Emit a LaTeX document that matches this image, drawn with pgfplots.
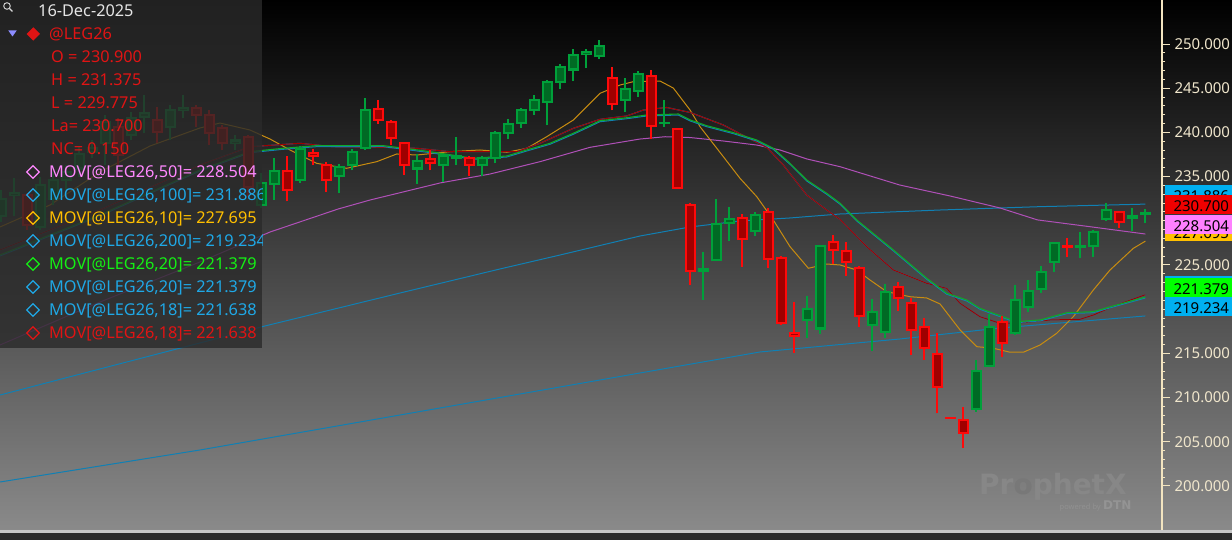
\documentclass[border=0pt]{standalone}
\usepackage{fontspec}
\setmainfont{Noto Sans}
\newfontfamily\wmfont{DejaVu Sans}
\usepackage{pgfplots}
\pgfplotsset{compat=1.18}
\usepackage{pgfplotstable}

\definecolor{bgbot}{HTML}{8A8A8A}
\definecolor{gborder}{HTML}{00A03A}
\definecolor{gfill}{HTML}{006A24}
\definecolor{rborder}{HTML}{FF0A0A}
\definecolor{rfill}{HTML}{A00000}
\definecolor{maf}{HTML}{B050B8}
\definecolor{mab}{HTML}{1080B4}
\definecolor{mag}{HTML}{C88C10}
\definecolor{magr}{HTML}{10A828}
\definecolor{mar}{HTML}{A00000}
\definecolor{axiscream}{HTML}{F2E4C0}
\definecolor{ticktext}{HTML}{F0E6CC}
\definecolor{tblue}{HTML}{1FA8E6}
\definecolor{tpink}{HTML}{FF88FF}
\definecolor{torange}{HTML}{FFBF00}
\definecolor{tgreen}{HTML}{14F014}
\definecolor{tred}{HTML}{E01414}
\definecolor{legbg}{HTML}{2A2A2A}
\definecolor{boxblue}{HTML}{00B0F0}
\definecolor{boxred}{HTML}{F00000}
\definecolor{boxpink}{HTML}{FF80FF}
\definecolor{boxorange}{HTML}{FFC000}
\definecolor{boxgreen}{HTML}{00FF00}

\pgfplotstableread{
i O H L C
0 230.5 233.5 229.9 232.5
1 232.9 234.8 230.5 233.2
3 229.3 235.0 229.0 234.05
4 232.4 235.5 231.8 234.6
5 234.6 236.3 233.5 235.5
6 235.9 238.35 235.0 237.6
7 237.8 239.1 237.1 238.2
8 238.8 242.0 236.3 241.2
10 239.7 242.3 239.1 241.6
11 241.7 244.2 239.9 242.2
13 240.6 243.1 239.1 242.5
14 242.5 244.2 241.6 242.8
18 238.8 239.7 238.0 239.1
20 231.8 235.4 231.4 234.3
21 234.2 237.1 232.4 235.6
23 234.6 238.5 234.3 238.1
26 235.1 236.4 233.1 236.05
27 236.3 238.1 235.7 237.75
28 238.2 243.9 238.0 242.6
32 235.9 237.6 234.2 236.8
34 236.3 237.6 234.4 237.4
35 237.1 239.5 236.3 237.3
37 236.3 237.3 235.1 237.1
38 237.1 240.2 236.5 239.9
39 239.9 241.5 239.2 241.0
40 241.1 242.8 240.5 242.5
41 242.5 244.2 242.0 243.7
42 243.4 245.9 240.8 245.7
43 245.7 247.7 244.9 247.4
44 247.1 249.4 245.8 248.8
45 248.8 249.4 247.3 249.1
46 248.6 250.5 248.3 249.8
48 243.7 246.1 242.3 244.9
49 244.7 246.9 244.0 246.6
51 241.0 243.7 240.6 241.1
54 224.35 226.5 221.0 224.6
55 225.5 232.5 225.4 229.7
56 229.7 231.6 227.75 230.2
58 228.8 231.0 228.3 230.7
62 218.8 221.5 216.7 220.0
63 217.8 227.3 217.2 227.2
67 218.2 221.2 215.3 219.7
68 217.4 222.85 216.7 222.0
75 208.7 214.3 208.4 213.0
76 213.6 219.4 213.5 218.0
78 217.3 222.7 217.1 221.0
79 220.2 223.3 219.7 222.1
80 222.3 224.9 221.8 224.2
81 225.3 227.6 224.2 227.5
83 227.0 228.7 225.8 227.2
84 227.1 229.0 225.9 228.8
85 230.2 232.0 230.0 231.2
87 230.35 231.4 228.9 230.55
88 230.9 231.375 229.775 230.7
}\greentab

\pgfplotstableread{
i O H L C
2 232.9 233.1 229.0 229.5
9 240.6 241.6 236.3 237.4
12 241.4 242.9 238.8 240.05
15 242.8 243.1 240.6 242.0
16 242.0 242.5 238.6 239.9
17 240.5 240.8 238.0 238.8
19 239.5 239.7 232.7 233.8
22 235.6 237.3 232.2 233.5
24 237.7 238.1 236.3 237.3
25 236.3 236.7 233.3 234.6
29 242.7 243.7 241.0 241.4
30 241.2 241.4 238.6 239.3
31 238.8 238.8 235.2 236.3
33 237.0 238.0 235.7 236.5
36 237.1 237.3 235.1 236.3
47 246.2 247.4 242.5 243.2
50 246.4 247.1 239.3 240.7
52 240.35 240.35 233.6 233.7
53 231.8 232.0 222.7 224.3
57 230.3 230.8 224.8 227.9
59 231.0 231.5 224.7 225.7
60 225.8 226.0 218.2 218.4
61 217.3 220.85 215.1 216.9
64 227.6 228.4 225.1 226.7
65 226.6 227.6 223.7 225.3
66 224.7 224.9 218.0 219.2
69 222.5 223.1 219.8 221.2
70 220.7 221.3 214.8 217.6
71 218.0 219.0 214.25 215.6
72 214.9 217.3 208.2 211.2
73 207.7 207.7 207.7 207.7
74 207.5 208.9 204.3 206.0
77 218.6 219.2 214.6 216.2
82 227.2 228.1 225.9 227.0
86 231.0 231.1 229.2 229.9
}\redtab

\pgfplotstableread{
i v
-0.1 215.95
7.59 220.81
15.28 225.34
20.67 228.73
25.9 231.33
28.36 232.35
33.75 234.28
37.59 235.29
41.44 236.69
45.28 238.31
49.13 239.25
51.05 239.51
52.98 239.42
55.52 239.03
58.11 238.57
59.9 238.01
61.95 237.0
64.52 236.12
69.1 234.05
73.0 232.8
76.82 231.45
79.7 230.1
83.75 229.33
88 228.504
}\maFifty

\pgfplotstableread{
i v
-0.1 210.29
7.59 213.24
15.28 216.18
20.28 218.10
30.67 221.83
38.36 224.55
42.98 226.13
49.13 228.28
52.98 229.30
56.82 229.98
60.67 230.32
64.52 230.77
72.21 231.22
79.9 231.6
88 231.886
}\maHundred

\pgfplotstableread{
i v
-0.1 200.45
15.28 204.07
30.67 208.03
46.05 211.99
58.36 215.16
69.13 216.63
76.82 217.87
88 219.234
}\maTwoHundred

\pgfplotstableread{
i v
-0.1 229.30
3.75 231.79
7.59 235.52
11.44 238.46
15.28 240.50
16.82 241.06
19.13 240.27
20.67 239.25
22.21 238.01
24.26 236.50
26.57 235.94
28.88 236.69
30.42 237.56
31.95 237.44
34.52 237.82
36.82 238.01
38.88 237.75
40.42 238.20
41.95 239.51
44.0 241.40
46.05 244.42
47.59 245.36
48.62 245.74
50.67 245.81
51.69 245.02
52.98 242.53
53.75 240.64
55.54 237.25
56.82 234.81
58.11 232.73
59.38 230.09
60.67 227.07
62.08 224.63
63.49 225.11
64.52 225.0
65.8 224.43
66.82 223.30
68.11 221.98
69.9 221.41
71.18 221.27
72.21 220.59
73.75 217.65
75.03 215.76
76.31 215.58
77.59 215.13
78.62 215.13
79.9 215.95
81.18 217.27
82.46 219.15
84.0 222.17
85.28 224.43
87.08 226.89
88 227.695
}\maTen

\pgfplotstableread{
i v
-0.1 226.13
7.59 230.66
15.28 235.75
19.13 237.82
21.67 238.20
24.26 238.50
29.38 238.50
31.44 238.12
32.98 237.82
36.31 237.07
38.88 237.33
40.42 238.01
42.21 238.77
44.0 239.90
46.05 241.32
48.11 241.66
49.65 241.97
52.08 242.08
53.0 241.40
54.26 240.76
56.31 239.97
58.11 239.14
59.38 238.20
60.67 236.50
61.95 234.62
63.49 233.11
64.52 231.98
65.8 230.09
68.62 226.70
71.18 223.50
72.72 221.80
74.26 221.04
75.28 220.10
76.31 219.54
78.11 218.59
79.9 218.78
81.95 219.60
84.0 219.72
85.8 220.48
88 221.379
}\maTwenty

\pgfplotstableread{
i v
-0.1 226.70
7.59 231.22
15.28 236.31
19.13 238.38
22.98 238.77
25.52 238.38
29.36 238.31
31.95 238.20
34.52 237.82
39.65 237.82
41.44 238.77
44.0 240.46
46.05 241.48
48.11 241.86
49.38 242.53
51.18 242.82
53.0 242.25
55.54 240.84
57.34 239.45
58.88 238.31
60.15 236.31
61.95 232.92
63.49 231.22
64.52 230.15
66.57 227.07
68.62 224.43
71.18 222.93
72.72 222.36
73.74 220.67
75.28 219.15
76.82 218.40
78.62 218.47
80.67 218.78
82.98 218.86
84.0 219.34
85.8 220.48
88 221.638
}\maEighteen

\pgfplotsset{
  wick/.style={only marks, mark=none, mark size=0pt, mark options={draw opacity=0, fill opacity=0}, forget plot,
    error bars/.cd, y dir=plus, y explicit, error mark=none,
    error bar style={line width=2pt, color=#1, line cap=butt, draw opacity=1}},
  body/.style 2 args={only marks, mark=none, mark size=0pt, mark options={draw opacity=0, fill opacity=0}, forget plot,
    error bars/.cd, y dir=plus, y explicit, error mark=none,
    error bar style={line width=#2, color=#1, line cap=butt, draw opacity=1}},
}

\newcommand\legfont{\fontsize{16.3}{16.3}\selectfont}
\newcommand\tickfont{\fontsize{15}{15}\selectfont}

\begin{document}
\begin{tikzpicture}[x=1pt,y=1pt]
\useasboundingbox (0,0) rectangle (1232,540);
\clip (0,0) rectangle (1232,540);
% background
\shade[top color=black, bottom color=bgbot] (0,9.5) rectangle (1232,540);
\fill[white!78!black] (0,7.3) rectangle (1232,9.5);
\fill[black!83] (0,0) rectangle (1232,7.3);
% watermark
\node[anchor=base west, inner sep=0, text=white!53!black, font=\wmfont\fontsize{28}{28}\selectfont\bfseries] at (979,45) {Pr{\color{white!47!black}o}phetX};
\node[anchor=base east, inner sep=0, text=white!57!black, font=\fontsize{7.5}{7.5}\selectfont] at (1101,30) {powered by};
\node[anchor=base west, inner sep=0, text=white!58!black, font=\wmfont\fontsize{12}{12}\selectfont\bfseries] at (1103,30) {DTN};

\begin{axis}[
  at={(0pt,10pt)}, anchor=south west,
  scale only axis, width=1162pt, height=530pt,
  xmin=-0.1, xmax=89.28, ymin=195.02, ymax=254.98,
  axis x line=none,
  axis y line*=right,
  axis line style={color=axiscream, line width=1.3pt, -},
  ytick={200,205,...,250},
  minor y tick num=4,
  tick align=outside,
  major tick length=8pt, minor tick length=3.5pt,
  every tick/.style={color=axiscream, line width=1pt},
  scaled y ticks=false,
  yticklabel style={/pgf/number format/.cd, fixed, fixed zerofill, precision=3, 1000 sep={}, assume math mode=true, /tikz/.cd, font=\tickfont, text=ticktext, anchor=west, xshift=1pt},
  clip mode=individual,
]
% moving averages
\addplot[mab, line width=1pt, mark=none] table[x=i, y=v] {\maTwoHundred};
\addplot[mab, line width=1pt, mark=none] table[x=i, y=v] {\maHundred};
\addplot[maf, line width=1pt, mark=none] table[x=i, y=v] {\maFifty};
\addplot[mag, line width=1pt, mark=none] table[x=i, y=v] {\maTen};
\addplot[mab, line width=1pt, mark=none] table[x=i, y=v] {\maEighteen};
\addplot[mar, line width=1pt, mark=none] table[x=i, y=v] {\maEighteen};
\addplot[mab, line width=1pt, mark=none, yshift=-1pt] table[x=i, y=v] {\maTwenty};
\addplot[magr, line width=1.1pt, mark=none] table[x=i, y=v] {\maTwenty};
% candles: wicks
\addplot[wick=gborder] table[x=i, y=L, y error plus expr={\thisrow{H}-\thisrow{L}}] {\greentab};
\addplot[wick=rborder] table[x=i, y=L, y error plus expr={\thisrow{H}-\thisrow{L}}] {\redtab};
% bodies outer
\addplot[body={gborder}{11pt}] table[x=i, y expr={min(\thisrow{O},\thisrow{C})-0.1}, y error plus expr={abs(\thisrow{C}-\thisrow{O})+0.2}] {\greentab};
\addplot[body={rborder}{11pt}] table[x=i, y expr={min(\thisrow{O},\thisrow{C})-0.1}, y error plus expr={abs(\thisrow{C}-\thisrow{O})+0.2}] {\redtab};
% bodies inner
\addplot[body={gfill}{7pt}] table[x=i, y expr={min(\thisrow{O},\thisrow{C})+0.13}, y error plus expr={max(abs(\thisrow{C}-\thisrow{O})-0.26,0)}] {\greentab};
\addplot[body={rfill}{7pt}] table[x=i, y expr={min(\thisrow{O},\thisrow{C})+0.13}, y error plus expr={max(abs(\thisrow{C}-\thisrow{O})-0.26,0)}] {\redtab};
% last-value boxes
\tikzset{pbox/.style={anchor=south west, inner xsep=4pt, inner ysep=2.5pt, text height=14pt, text depth=0pt, minimum width=72pt, align=left, text=black, font=\tickfont}}
\node[pbox, fill=boxblue] at (axis cs:89.52,231.886) {231.886};
\node[pbox, fill=boxorange] at (axis cs:89.52,227.695) {227.695};
\node[pbox, fill=boxred] at (axis cs:89.52,230.700) {230.700};
\node[pbox, fill=boxpink] at (axis cs:89.52,228.504) {228.504};
\node[pbox, fill=boxblue] at (axis cs:89.52,221.638) {221.638};
\node[pbox, fill=boxgreen] at (axis cs:89.52,221.379) {221.379};
\node[pbox, fill=boxblue] at (axis cs:89.52,219.234) {219.234};
\end{axis}

% legend panel
\fill[legbg, opacity=0.8] (0,192) rectangle (262,540);
\begin{scope}
\clip (0,192) rectangle (262,540);
% magnifier
\draw[white!85!black, line width=0.9pt] (7,534) circle (3.3);
\draw[white!85!black, line width=1.3pt] (9.4,531.6) -- (12.5,528.5);
% triangle and red diamond
\fill[blue!45!white] (8.3,509.5) -- (16.7,509.5) -- (12.5,503.5) -- cycle;
\fill[tred] (33.3,512.7) -- (40,506) -- (33.3,499.3) -- (26.6,506) -- cycle;
\node[anchor=base west, inner sep=0, text=white!90!black, font=\legfont] at (38,523.3) {16-Dec-2025};
\node[anchor=base west, inner sep=0, text=tred, font=\legfont] at (49,500.3) {@LEG26};
\node[anchor=base west, inner sep=0, text=tred, font=\legfont] at (51,477.3) {O = 230.900};
\node[anchor=base west, inner sep=0, text=tred, font=\legfont] at (51,454.3) {H = 231.375};
\node[anchor=base west, inner sep=0, text=tred, font=\legfont] at (51,431.3) {L = 229.775};
\node[anchor=base west, inner sep=0, text=tred, font=\legfont] at (51,408.3) {La= 230.700};
\node[anchor=base west, inner sep=0, text=tred, font=\legfont] at (51,385.3) {NC= 0.150};
% MOV rows
\foreach \k/\c/\t in {7/tpink/{MOV[@LEG26,50]= 228.504},
                      8/tblue/{MOV[@LEG26,100]= 231.886},
                      9/torange/{MOV[@LEG26,10]= 227.695},
                      10/tblue/{MOV[@LEG26,200]= 219.234},
                      11/tgreen/{MOV[@LEG26,20]= 221.379},
                      12/tblue/{MOV[@LEG26,20]= 221.379},
                      13/tblue/{MOV[@LEG26,18]= 221.638},
                      14/tred/{MOV[@LEG26,18]= 221.638}}{
  \pgfmathsetmacro\yc{529-23*\k}
  \draw[\c, line width=1.3pt] (33,\yc+6.3) -- (39.3,\yc) -- (33,\yc-6.3) -- (26.7,\yc) -- cycle;
  \node[anchor=base west, inner sep=0, text=\c, font=\legfont] at (49,\yc-5.7) {\t};
}
\end{scope}
\end{tikzpicture}
\end{document}
